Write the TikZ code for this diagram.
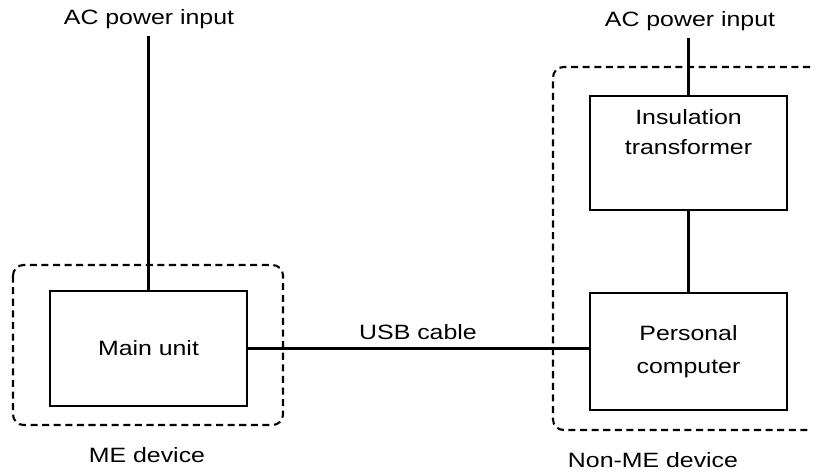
\documentclass[tikz,border=0pt]{standalone}
\usepackage{fontspec}
\setmainfont[FakeStretch=1.2]{Liberation Sans}
\begin{document}
\begin{tikzpicture}[x=0.02cm,y=-0.02cm,line width=1.4pt,
	font=\fontsize{11.8}{17}\selectfont,
	unit/.style={draw,minimum width=3.94cm,inner sep=0pt},
	group/.style={line width=1.2pt,dash pattern=on 4pt off 2.6pt,rounded corners=6pt}]
				\useasboundingbox (0,0) rectangle (814,473);
				% ME device
				\node (acleft) at (149,19) {AC power input};
				\node[unit,minimum height=2.3cm] (mainunit) at (148.5,348.5) {Main unit};
				\draw (acleft.south -| mainunit.north) -- (mainunit.north);
				\draw[group] (13,265) rectangle (283,425);
				\node (medev) at (147,455) {ME device};
				% non-ME device
				\node (acright) at (690,21) {AC power input};
				\node[unit,minimum height=2.28cm] (trafo) at (688.5,153) {};
				\node[align=center] (trafotext) at (688.5,132) {Insulation\\transformer};
				\node[unit,minimum height=2.34cm,align=center] (pc) at (688.5,351.5) {Personal\\[2pt]computer};
				\draw (acright.south -| trafo.north) -- (trafo.north);
				\draw (trafo) -- (pc);
				\draw[group] (810,67) -- (553,67) -- (553,430) -- (810,430);
				\node (nonmedev) at (653,460) {Non-ME device};
				% usb
				\draw (mainunit.east) -- (mainunit.east -| pc.west);
				\node (usb) at (418,332) {USB cable};
			\end{tikzpicture}
\end{document}
